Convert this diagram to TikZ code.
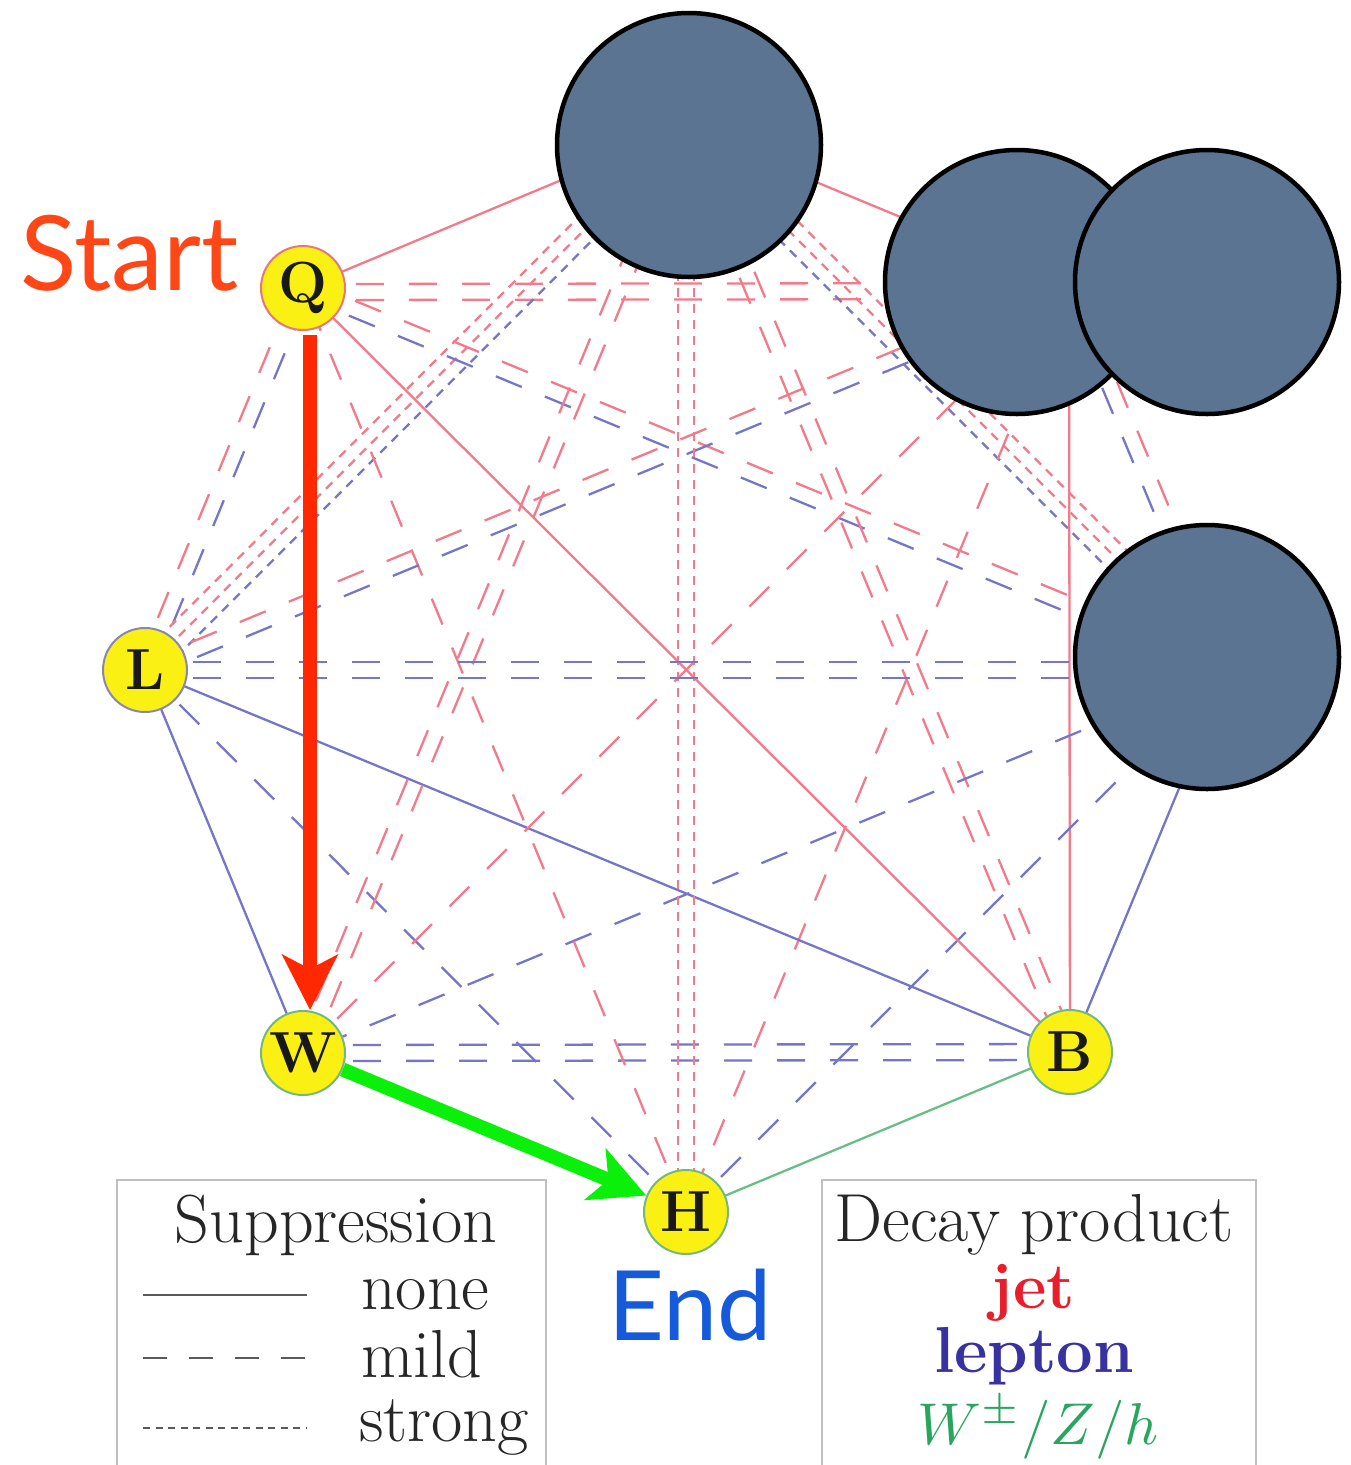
\documentclass[tikz,border=0pt]{standalone}
\usepackage{graphicx}
\usepackage{fontspec}
\newfontfamily\gillfont{Lato}
\usetikzlibrary{calc,arrows.meta}
\pgfdeclarelayer{back}
\pgfdeclarelayer{edges}
\pgfsetlayers{back,edges,main}

\definecolor{jetc}{RGB}{242,122,138}
\definecolor{lepc}{RGB}{118,118,200}
\definecolor{bosc}{RGB}{105,190,135}
\definecolor{nodey}{RGB}{250,240,20}
\definecolor{qbord}{RGB}{232,120,120}
\definecolor{lbord}{RGB}{135,135,180}
\definecolor{gbord}{RGB}{115,185,125}
\definecolor{blobc}{RGB}{90,116,145}
\definecolor{startc}{RGB}{255,70,22}
\definecolor{endc}{RGB}{22,90,220}
\definecolor{redarr}{RGB}{255,40,0}
\definecolor{greenarr}{RGB}{10,240,10}
\definecolor{legjet}{RGB}{232,30,45}
\definecolor{legle}{RGB}{55,50,160}
\definecolor{legbo}{RGB}{40,165,95}

\tikzset{
  pnode/.style={circle, fill=nodey, draw=#1, line width=2pt, minimum size=84pt, inner sep=0pt,
    font=\fontsize{58}{58}\selectfont\bfseries, text=black!90},
  edgeline/.style={line width=2.3pt},
  supnone/.style={},
  supmild/.style={dash pattern=on 28pt off 25pt},
  supstrong/.style={dash pattern=on 9pt off 7pt},
  blob/.style={circle, fill=blobc, draw=black, line width=4.5pt, minimum size=264pt, inner sep=0pt},
  legbox/.style={draw=black!25, line width=2pt},
  legline/.style={draw=black!65, line width=2.2pt},
  legtext/.style={inner sep=0pt, font=\fontsize{68}{68}\selectfont, text=black!85},
  legbold/.style={inner sep=0pt, font=\fontsize{65}{65}\selectfont\bfseries},
  bigarrow/.style={line width=14pt, -{Stealth[length=55pt,width=55pt,inset=14pt]}},
}

\newcommand\ed[5]{\draw[edgeline,#4,#5] ($(#1.center)!#3pt!90:(#2.center)$) -- ($(#2.center)!#3pt!-90:(#1.center)$);}

\begin{document}
\begin{tikzpicture}[x=1pt,y=-1pt]
\useasboundingbox (0,0) rectangle (1350,1465);
\begin{pgfonlayer}{back}
\fill[white] (0,0) rectangle (1350,1465);
\end{pgfonlayer}

% visible nodes
\node[pnode=qbord] (Q) at (303,288) {Q};
\node[pnode=lbord] (L) at (145,670) {L};
\node[pnode=gbord] (W) at (303,1053) {W};
\node[pnode=gbord] (H) at (686,1212) {H};
\node[pnode=gbord] (B) at (1070,1052) {B};
% hidden nodes
\coordinate (T) at (686,128);
\coordinate (R1) at (1069,287);
\coordinate (R2) at (1228,670);

\begin{pgfonlayer}{edges}
\ed{Q}{T}{0}{jetc}{supnone}
\ed{T}{R1}{0}{jetc}{supnone}
\ed{R1}{R2}{8}{jetc}{supmild} \ed{R1}{R2}{-8}{lepc}{supmild}
\ed{R2}{B}{0}{lepc}{supnone}
\ed{B}{H}{0}{bosc}{supnone}
\ed{W}{L}{0}{lepc}{supnone}
\ed{L}{Q}{8}{jetc}{supmild} \ed{L}{Q}{-8}{lepc}{supmild}
\ed{Q}{R1}{4}{jetc}{supmild} \ed{Q}{R1}{-12}{jetc}{supmild}
\ed{T}{R2}{13}{jetc}{supstrong} \ed{T}{R2}{0}{jetc}{supstrong} \ed{T}{R2}{-13}{lepc}{supstrong}
\ed{R1}{B}{0}{jetc}{supnone}
\ed{R2}{H}{0}{lepc}{supmild}
\ed{B}{W}{8}{lepc}{supmild} \ed{B}{W}{-8}{lepc}{supmild}
\ed{H}{L}{0}{lepc}{supmild}
\ed{L}{T}{13}{jetc}{supstrong} \ed{L}{T}{0}{jetc}{supstrong} \ed{L}{T}{-13}{lepc}{supstrong}
\ed{Q}{R2}{8}{jetc}{supmild} \ed{Q}{R2}{-8}{lepc}{supmild}
\ed{T}{B}{8}{jetc}{supmild} \ed{T}{B}{-8}{jetc}{supmild}
\ed{R1}{H}{0}{jetc}{supmild}
\ed{R2}{W}{0}{lepc}{supmild}
\ed{B}{L}{0}{lepc}{supnone}
\ed{H}{Q}{0}{jetc}{supmild}
\ed{W}{T}{8}{jetc}{supmild} \ed{W}{T}{-8}{jetc}{supmild}
\ed{L}{R1}{8}{jetc}{supmild} \ed{L}{R1}{-8}{lepc}{supmild}
\ed{Q}{B}{0}{jetc}{supnone}
\ed{T}{H}{8}{jetc}{supstrong} \ed{T}{H}{-8}{jetc}{supstrong}
\ed{R1}{W}{0}{jetc}{supmild}
\ed{R2}{L}{8}{lepc}{supmild} \ed{R2}{L}{-8}{lepc}{supmild}
\end{pgfonlayer}

% covering discs
\node[blob] (blobT) at (689,145) {};
\node[blob] (blobA) at (1017,282) {};
\node[blob] (blobB) at (1207,282) {};
\node[blob] (blobC) at (1207,657) {};

% path arrows
\draw[bigarrow, redarr] ([xshift=7pt,yshift=-4pt]Q.south) -- ([xshift=7pt]W.north);
\draw[bigarrow, greenarr] (W) -- (H);

% labels
\node[anchor=base west, inner sep=0pt, font=\gillfont\fontsize{104}{104}\selectfont, text=startc] (start) at (20,290) {Start};
\node[anchor=base west, inner sep=0pt, font=\gillfont\fontsize{97}{97}\selectfont, text=endc] (end) at (608,1340) {End};

% legend: suppression
\draw[legbox] (117,1465) |- (546,1180) -- (546,1465);
\node[legtext, anchor=base] (supT) at (336,1242) {Suppression};
\coordinate (ln1a) at (143,1295); \coordinate (ln1b) at (307,1295);
\coordinate (ln2a) at (143,1358); \coordinate (ln2b) at (307,1358);
\coordinate (ln3a) at (143,1428); \coordinate (ln3b) at (307,1428);
\draw[legline] (ln1a) -- (ln1b);
\draw[legline, dash pattern=on 24pt off 22pt] (ln2a) -- (ln2b);
\draw[legline, dash pattern=on 7pt off 5.5pt] (ln3a) -- (ln3b);
\node[legtext, anchor=base west] (tnone) at (361,1309) {none};
\node[legtext, anchor=base west] (tmild) at (361,1377) {mild};
\node[legtext, anchor=base west] (tstrong) at (359,1441) {strong};

% legend: decay product
\draw[legbox] (822,1465) |- (1256,1180) -- (1256,1465);
\node[legtext, anchor=base] (decT) at (1034,1241) {Decay product};
\node[legbold, anchor=base, text=legjet] (tjet) at (1033,1308) {jet};
\node[legbold, anchor=base, text=legle] (tlep) at (1034,1372) {lepton};
\node[anchor=base, inner sep=0pt, text=legbo, font=\normalsize] (tbos) at (1038,1444) {\scalebox{5.9}{$W^{\pm}/Z/h$}};
\end{tikzpicture}
\end{document}
